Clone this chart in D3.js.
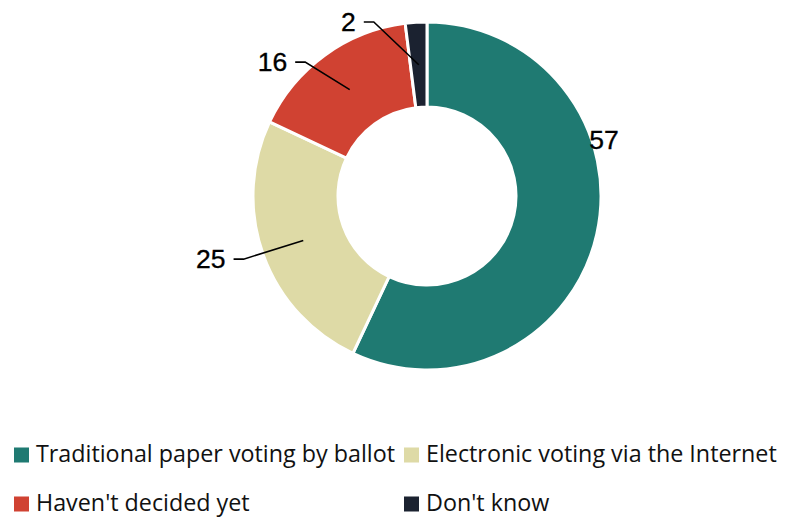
<!DOCTYPE html>
<html><head><meta charset="utf-8">
<script src="https://cdn.jsdelivr.net/npm/d3@7"></script>
<style>body{margin:0;background:#fff}svg{display:block}</style>
</head><body>
<svg id="c" width="786" height="518"></svg>
<script>
const categories = ["Traditional paper voting by ballot","Electronic voting via the Internet","Haven't decided yet","Don't know"];
const values = [57, 25, 16, 2];
const colors = ["#1f7a72", "#dedaa6", "#d04232", "#1b2230"];

const svg = d3.select("#c");
const cx = 427, cy = 196, rOut = 174, rIn = 89;
const g = svg.append("g").attr("transform", `translate(${cx},${cy})`);

const pie = d3.pie().sort(null).value(d => d)(values);
const arc = d3.arc().innerRadius(rIn).outerRadius(rOut);
g.selectAll("path.s").data(pie).join("path")
  .attr("class","s")
  .attr("d", arc)
  .attr("fill", (d,i) => colors[i])
  .attr("stroke", "#fff").attr("stroke-width", 3);

// label layout: elbow point in polar (angle deg clockwise from top, radius)
const labelLayout = [
  {text:[177,-56], line:false},
  {elbow:[251,194], line:true},
  {elbow:[317.7,181], line:true},
  {elbow:[343,182], line:true}
];
const polar = (a, r) => [Math.sin(a*Math.PI/180)*r, -Math.cos(a*Math.PI/180)*r];
const labelFont = "Liberation Sans, Arial, sans-serif";
pie.forEach((d,i) => {
  const L = labelLayout[i];
  let tx, ty, anchor;
  if (L.line) {
    const c = arc.centroid(d);
    const e = polar(L.elbow[0], L.elbow[1]);
    const end = [e[0]-10, e[1]];
    g.append("polyline").attr("points", [c, e, end].map(p => p.join(",")).join(" "))
      .attr("fill","none").attr("stroke","#000").attr("stroke-width",1.6);
    tx = end[0]-8; ty = end[1]; anchor = "end";
  } else {
    tx = L.text[0]; ty = L.text[1]; anchor = "middle";
  }
  g.append("text").attr("x", tx).attr("y", ty).attr("dy","0.35em")
    .attr("text-anchor",anchor).attr("font-family",labelFont)
    .attr("font-size",26.5).attr("stroke","#000").attr("stroke-width",0.35).text(values[i]);
});

// legend
const legPos = [[14,462],[404,462],[14,511],[404,511]];
const leg = svg.append("g");
categories.forEach((c,i) => {
  const [x,y] = legPos[i];
  leg.append("rect").attr("x",x).attr("y",y-14.5).attr("width",15).attr("height",15).attr("fill",colors[i]);
  leg.append("text").attr("x",x+22).attr("y",y)
    .attr("font-family","Open Sans, sans-serif").attr("font-size",23.3)
    .attr("fill","#111").text(c);
});
</script>
</body></html>
